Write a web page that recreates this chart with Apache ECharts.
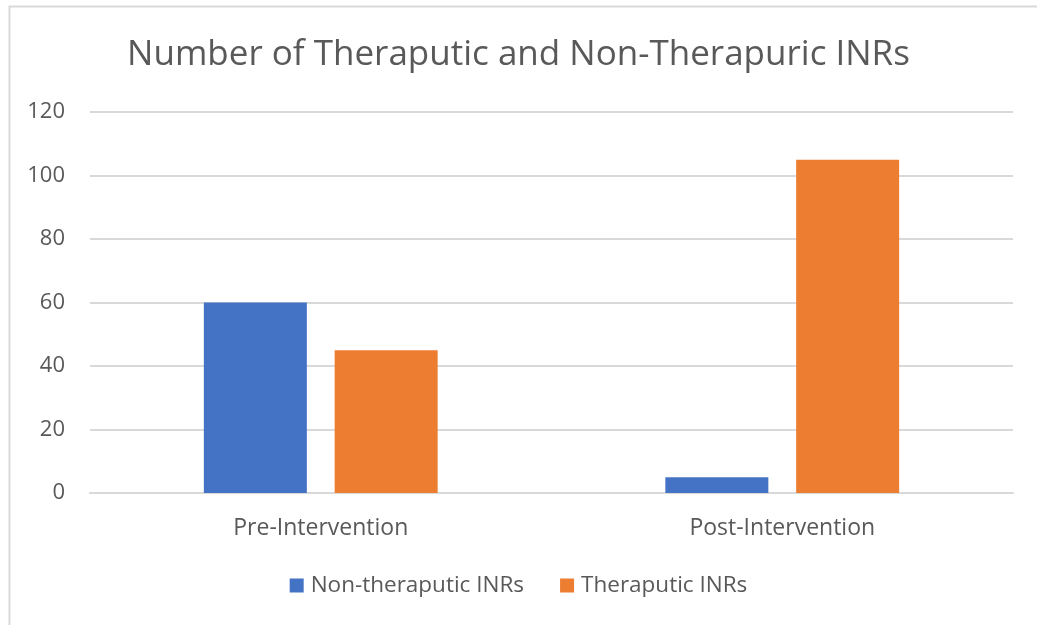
<!DOCTYPE html>
<html>
<head>
<meta charset="utf-8">
<script src="https://cdn.jsdelivr.net/npm/echarts@6/dist/echarts.min.js"></script>
<style>
html,body{margin:0;padding:0;background:#fff;}
#chart{width:1037px;height:625px;}
</style>
</head>
<body>
<div id="chart"></div>
<script>
const titleText = "Number of Theraputic and Non-Therapuric INRs";
const categories = ["Pre-Intervention", "Post-Intervention"];
const seriesNames = ["Non-theraputic INRs", "Theraputic INRs"];
const nonTherapeutic = [60, 5];
const therapeutic = [45, 105];
const yMin = 0, yMax = 120, yStep = 20;

const FONT = "Open Sans";
const chart = echarts.init(document.getElementById('chart'), null, {renderer: 'canvas'});
chart.setOption({
  animation: false,
  backgroundColor: '#ffffff',
  graphic: [{
    type: 'rect', left: 7, top: 4, z: -1,
    shape: {width: 1100, height: 700},
    style: {fill: 'none', stroke: '#d9d9d9', lineWidth: 2}
  }],
  title: {
    text: titleText, left: 'center', top: 33,
    textStyle: {fontFamily: FONT, fontSize: 35, fontWeight: 'normal', color: '#595959'}
  },
  legend: {
    data: seriesNames, bottom: 23, left: 'center',
    itemWidth: 14, itemHeight: 14, itemGap: 36,
    icon: 'rect',
    textStyle: {fontFamily: FONT, fontSize: 22.5, color: '#595959', padding: [0, 0, 0, 2]}
  },
  grid: {left: 90, right: 24, top: 112, bottom: 132, containLabel: false},
  xAxis: {
    type: 'category', data: categories,
    axisLine: {show: true, lineStyle: {color: '#d9d9d9', width: 2}},
    axisTick: {show: false},
    axisLabel: {fontFamily: FONT, fontSize: 23, color: '#595959', margin: 24}
  },
  yAxis: {
    type: 'value', min: yMin, max: yMax, interval: yStep,
    axisLine: {show: false}, axisTick: {show: false},
    splitLine: {lineStyle: {color: '#d9d9d9', width: 2}},
    axisLabel: {fontFamily: FONT, fontSize: 22, color: '#595959', margin: 25}
  },
  series: [
    {name: seriesNames[0], type: 'bar', data: nonTherapeutic, barWidth: 103, barGap: '27%',
     itemStyle: {color: '#4472c4'}},
    {name: seriesNames[1], type: 'bar', data: therapeutic, barWidth: 103,
     itemStyle: {color: '#ed7d31'}}
  ]
});
</script>
</body>
</html>
